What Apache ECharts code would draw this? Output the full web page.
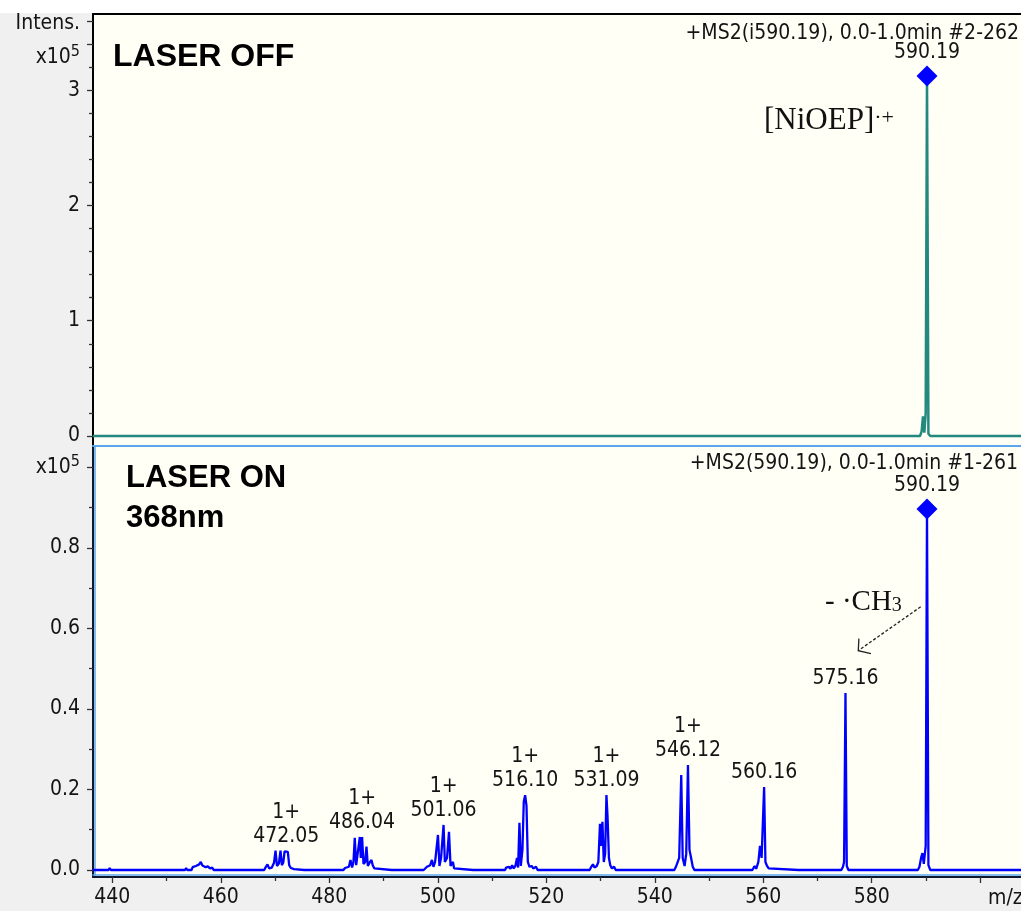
<!DOCTYPE html>
<html>
<head>
<meta charset="utf-8">
<script src="https://cdn.jsdelivr.net/npm/echarts@6/dist/echarts.min.js"></script>
<style>
  html, body { margin: 0; padding: 0; background: #f0f0f0; }
  #chart { width: 1021px; height: 911px; }
</style>
</head>
<body>
<div id="chart"></div>
<script>
// MS2 spectra of [NiOEP]+ (m/z, intensity in units of 1e5 counts)
const offSpectrum = [
  [436.4, 0], [588.9, 0], [589.2, 0.04], [589.45, 0.17], [589.7, 0.03], [589.95, 0.2],
  [590.19, 3.122], [590.45, 0.02], [590.8, 0], [607.6, 0]
];

const onSpectrum = [
  [436.4, 0], [437.6, 0], [437.8, 0.004], [438.0, 0], [439.3, 0], [439.5, 0.005], [439.7, 0],
  [440.9, 0], [441.1, 0.003], [441.3, 0], [442.6, 0], [442.8, 0.004], [443.0, 0],
  [444.5, 0], [444.7, 0.003], [444.9, 0], [448.2, 0], [448.4, 0.004], [448.6, 0],
  [451.3, 0], [451.5, 0.003], [451.7, 0], [453.4, 0], [453.6, 0.005], [453.8, 0],
  [454.6, 0], [454.8, 0.007], [455.1, 0.004], [455.4, 0.010], [455.7, 0.006], [456.0, 0.014],
  [456.3, 0.020], [456.6, 0.011], [456.9, 0.015], [457.2, 0.007], [457.6, 0.009], [458.0, 0.004],
  [458.4, 0.006], [458.7, 0], [459.5, 0], [459.7, 0.004], [459.9, 0],
  [464.5, 0], [464.7, 0.003], [464.9, 0], [466.5, 0], [466.7, 0.004], [466.9, 0],
  [468.0, 0], [468.3, 0.008], [468.6, 0.014], [468.9, 0.004], [469.4, 0.006], [469.8, 0.018],
  [470.08, 0.048], [470.35, 0.010], [470.7, 0.016], [471.0, 0.048], [471.25, 0.012],
  [471.5, 0.018], [471.75, 0.046], [472.05, 0.048], [472.35, 0.045], [472.6, 0.012],
  [472.9, 0.005], [473.2, 0.008], [473.5, 0.002], [473.8, 0],
  [475.4, 0], [475.6, 0.004], [475.8, 0], [479.0, 0], [479.2, 0.004], [479.4, 0],
  [481.3, 0], [481.5, 0.003], [481.7, 0],
  [482.6, 0], [482.9, 0.005], [483.2, 0.003], [483.6, 0.008], [483.9, 0.025], [484.2, 0.006],
  [484.45, 0.02], [484.69, 0.080], [484.95, 0.012], [485.3, 0.01], [485.62, 0.082], [485.8, 0.03],
  [486.04, 0.082], [486.3, 0.015], [486.6, 0.02], [486.85, 0.058], [487.1, 0.01], [487.5, 0.02],
  [487.77, 0.025], [488.0, 0.012], [488.3, 0.004], [488.6, 0],
  [491.5, 0], [491.7, 0.003], [491.9, 0], [494.8, 0], [495.0, 0.004], [495.2, 0],
  [497.4, 0], [497.7, 0.004], [498.0, 0.008], [498.3, 0.004], [498.6, 0.012], [498.92, 0.025],
  [499.2, 0.008], [499.5, 0.02], [500.03, 0.087], [500.3, 0.01], [500.6, 0.03], [501.06, 0.112],
  [501.3, 0.02], [501.7, 0.03], [502.06, 0.095], [502.35, 0.01], [502.6, 0.008], [502.79, 0.02],
  [503.0, 0.004], [503.3, 0],
  [506.5, 0], [506.7, 0.003], [506.9, 0], [510.5, 0], [510.7, 0.004], [510.9, 0],
  [512.4, 0], [512.6, 0.006], [512.8, 0.002], [513.1, 0.008], [513.4, 0.003], [513.7, 0.012],
  [514.0, 0.004], [514.3, 0.010], [514.6, 0.03], [514.8, 0.006], [515.05, 0.117], [515.3, 0.01],
  [515.6, 0.05], [515.85, 0.17], [516.1, 0.186], [516.35, 0.16], [516.6, 0.02], [516.9, 0.008],
  [517.3, 0.01], [517.6, 0.004], [518.1, 0.008], [518.4, 0],
  [521.5, 0], [521.7, 0.003], [521.9, 0], [525.8, 0], [526.0, 0.003], [526.2, 0],
  [528.0, 0], [528.3, 0.008], [528.6, 0.014], [528.9, 0.006], [529.3, 0.01], [529.6, 0.02],
  [529.9, 0.115], [530.15, 0.06], [530.35, 0.12], [530.6, 0.02], [530.85, 0.04], [531.09, 0.186],
  [531.3, 0.13], [531.55, 0.03], [531.8, 0.012], [532.1, 0.004], [532.5, 0.008], [532.8, 0],
  [536.5, 0], [536.7, 0.003], [536.9, 0],
  [543.0, 0], [543.3, 0.004], [543.6, 0], [543.9, 0.008], [544.2, 0.012], [544.5, 0.03],
  [544.88, 0.236], [545.15, 0.03], [545.5, 0.01], [545.8, 0.04], [546.12, 0.261], [546.4, 0.05],
  [546.7, 0.03], [547.0, 0.008], [547.3, 0],
  [550.6, 0], [550.8, 0.003], [551.0, 0],
  [558.0, 0], [558.2, 0.004], [558.4, 0.010], [558.7, 0.003], [559.1, 0.02], [559.4, 0.06],
  [559.7, 0.03], [560.16, 0.206], [560.4, 0.02], [560.7, 0.01], [561.0, 0.004], [561.3, 0],
  [566.5, 0], [566.7, 0.002], [566.9, 0],
  [574.4, 0], [574.7, 0.008], [574.9, 0.02], [575.16, 0.44], [575.4, 0.01], [575.7, 0],
  [588.5, 0], [588.8, 0.008], [589.1, 0.03], [589.35, 0.042], [589.6, 0.015], [589.95, 0.06],
  [590.19, 0.897], [590.45, 0.012], [590.8, 0], [607.6, 0]
];

// Base peak, marked with a diamond in both panels
const basePeakMz = 590.19;
const offBaseIntensity = 3.122;
const onBaseIntensity = 0.897;

// Labelled fragment peaks (laser on)
const onPeakMz = [472.05, 486.04, 501.06, 516.10, 531.09, 546.12, 560.16, 575.16];
const onPeakIntensity = [0.048, 0.082, 0.112, 0.186, 0.186, 0.261, 0.206, 0.44];
const onPeakCharge = ['1+', '1+', '1+', '1+', '1+', '1+', '', ''];

// Axis ticks
const mzLabelTicks = [440, 460, 480, 500, 520, 540, 560, 580];
const mzMajorTicks = [440, 460, 480, 500, 520, 540, 560, 580, 600];
const mzMinorTicks = [450, 470, 490, 510, 530, 550, 570, 590];
const offLabelTicks = [0, 1, 2, 3];
const offMajorTicks = [0, 1, 2, 3, 3.4, 3.6];
const offMinorTicks = [0.2, 0.4, 0.6, 0.8, 1.2, 1.4, 1.6, 1.8, 2.2, 2.4, 2.6, 2.8, 3.2];
const onLabelTicks = [0, 0.2, 0.4, 0.6, 0.8, 1.0];
const onMinorTicks = [0.1, 0.3, 0.5, 0.7, 0.9];

// Text
const offHeader = '+MS2(i590.19), 0.0-1.0min #2-262';
const onHeader = '+MS2(590.19), 0.0-1.0min #1-261';
const arrowFrom = [589.03, 0.654];
const arrowTo = [577.52, 0.545];

const MZ_MIN = 436.43, MZ_MAX = 607.52;
const SANS = '"DejaVu Sans Condensed", Roboto, sans-serif';
const SERIF = '"Liberation Serif", "DejaVu Serif", serif';
const TXT = '#141414';
const BLUE_EDGE = '#59a5ee';

const near = (a, b) => Math.abs(a - b) < 1e-6;
const expRich = {
  n: { fontSize: 21, fontFamily: SANS, color: TXT, fill: TXT },
  s: { fontSize: 16, fontFamily: SANS, color: TXT, fill: TXT, padding: [0, 0, 12, 0] }
};

const chart = echarts.init(document.getElementById('chart'), null, { renderer: 'canvas' });

const hiddenX = (gridIndex, extra) => Object.assign({
  type: 'value', gridIndex, min: MZ_MIN, max: MZ_MAX,
  axisLine: { show: false, onZero: false }, axisTick: { show: false },
  axisLabel: { show: false }, splitLine: { show: false }
}, extra);

const hiddenY = (gridIndex, min, max, extra) => Object.assign({
  type: 'value', gridIndex, position: 'left', min, max,
  axisLine: { show: false, onZero: false }, axisTick: { show: false },
  axisLabel: { show: false }, splitLine: { show: false }
}, extra);

const minorTick = values => ({ show: true, customValues: values, length: 4, lineStyle: { color: '#333', width: 1.3 } });
const majorTick = values => ({ show: true, customValues: values, length: 6, lineStyle: { color: '#333', width: 1.3 } });
const pointLabel = extra => Object.assign({
  show: true, position: 'top', distance: 2, color: TXT, opacity: 1,
  fontSize: 21, fontFamily: SANS
}, extra);

const option = {
  backgroundColor: '#f0f0f0',
  animation: false,
  grid: [
    { left: 93, top: 14, right: 0, height: 432, show: true, backgroundColor: '#fffff6', borderWidth: 0, outerBoundsMode: 'none' },
    { left: 93, top: 446, right: 0, height: 431, show: true, backgroundColor: '#fffff6', borderWidth: 0, outerBoundsMode: 'none' }
  ],
  xAxis: [
    // top panel: black frame edge along the top
    hiddenX(0, { position: 'top', axisLine: { show: true, onZero: false, lineStyle: { color: '#000', width: 2 } } }),
    // bottom panel: m/z axis with labels
    {
      type: 'value', gridIndex: 1, position: 'bottom', min: MZ_MIN, max: MZ_MAX,
      axisLine: { show: true, onZero: false, lineStyle: { color: '#101830', width: 2 } },
      axisTick: majorTick(mzMajorTicks),
      axisLabel: { show: true, customValues: mzLabelTicks, margin: 10, color: TXT, fontSize: 21, fontFamily: SANS },
      splitLine: { show: false }
    },
    hiddenX(1, { position: 'bottom', axisTick: minorTick(mzMinorTicks) }),
    hiddenX(1, { position: 'top', axisLine: { show: true, onZero: false, lineStyle: { color: BLUE_EDGE, width: 2 } } }),
    hiddenX(1, { position: 'bottom', offset: -2, axisLine: { show: true, onZero: false, lineStyle: { color: BLUE_EDGE, width: 1.5 } } })
  ],
  yAxis: [
    {
      type: 'value', gridIndex: 0, position: 'left', min: -0.0867, max: 3.66,
      axisLine: { show: true, onZero: false, lineStyle: { color: '#000', width: 2 } },
      axisTick: majorTick(offMajorTicks),
      axisLabel: {
        show: true, customValues: offLabelTicks, margin: 13, color: TXT, fontSize: 21, fontFamily: SANS,
        formatter: v => String(Math.round(v))
      },
      splitLine: { show: false }
    },
    hiddenY(0, -0.0867, 3.66, { axisTick: minorTick(offMinorTicks) }),
    {
      type: 'value', gridIndex: 1, position: 'left', min: -0.0174, max: 1.0534,
      axisLine: { show: true, onZero: false, lineStyle: { color: '#101830', width: 2 } },
      axisTick: majorTick(onLabelTicks),
      axisLabel: {
        show: true, customValues: onLabelTicks, margin: 13, color: TXT, fontSize: 21, fontFamily: SANS,
        rich: expRich,
        formatter: v => near(v, 1.0) ? '{n|x10}{s|5}' : v.toFixed(1)
      },
      splitLine: { show: false }
    },
    hiddenY(1, -0.0174, 1.0534, { axisTick: minorTick(onMinorTicks) }),
    hiddenY(1, -0.0174, 1.0534, { offset: -2, axisLine: { show: true, onZero: false, lineStyle: { color: BLUE_EDGE, width: 1.5 } } })
  ],
  series: [
    {
      name: 'laser off', type: 'line', xAxisIndex: 0, yAxisIndex: 0, data: offSpectrum,
      symbol: 'none', silent: true, lineStyle: { color: '#23897f', width: 2.5 }, z: 3
    },
    {
      name: 'laser off base peak', type: 'scatter', xAxisIndex: 0, yAxisIndex: 0,
      data: [[basePeakMz, offBaseIntensity]], symbol: 'diamond', symbolSize: 21,
      itemStyle: { color: '#0000ff', opacity: 1 }, silent: true, z: 5,
      label: pointLabel({ formatter: p => p.value[0].toFixed(2) })
    },
    {
      name: 'laser on', type: 'line', xAxisIndex: 1, yAxisIndex: 2, data: onSpectrum,
      symbol: 'none', silent: true, lineStyle: { color: '#0000ff', width: 2.3 }, z: 3
    },
    {
      name: 'laser on base peak', type: 'scatter', xAxisIndex: 1, yAxisIndex: 2,
      data: [[basePeakMz, onBaseIntensity]], symbol: 'diamond', symbolSize: 21,
      itemStyle: { color: '#0000ff', opacity: 1 }, silent: true, z: 5,
      label: pointLabel({ formatter: p => p.value[0].toFixed(2) })
    },
    {
      name: 'fragment labels', type: 'scatter', xAxisIndex: 1, yAxisIndex: 2,
      data: onPeakMz.map((mz, i) => [mz, onPeakIntensity[i]]),
      symbolSize: 1, itemStyle: { color: '#0000ff', opacity: 0 }, silent: true, z: 4,
      label: pointLabel({
        lineHeight: 24, align: 'center',
        formatter: p => (onPeakCharge[p.dataIndex] ? onPeakCharge[p.dataIndex] + '\n' : '') + p.value[0].toFixed(2)
      })
    }
  ],
  graphic: [
    { id: 'topStrip', type: 'rect', shape: { x: 0, y: 0, width: 1021, height: 13 }, style: { fill: '#ffffff' }, z: -10, silent: true },
    { id: 'offTitle', type: 'text', left: 113, top: 41, z: 10,
      style: { text: 'LASER OFF', font: 'bold 32px "Liberation Sans", Arial, sans-serif', fill: '#000' } },
    { id: 'onTitle1', type: 'text', left: 126, top: 463, z: 10,
      style: { text: 'LASER ON', font: 'bold 31px "Liberation Sans", Arial, sans-serif', fill: '#000' } },
    { id: 'onTitle2', type: 'text', left: 126, top: 503, z: 10,
      style: { text: '368nm', font: 'bold 31px "Liberation Sans", Arial, sans-serif', fill: '#000' } },
    { id: 'offHeader', type: 'text', right: 2, top: 23, z: 10,
      style: { text: offHeader, font: '21px ' + SANS, fill: TXT } },
    { id: 'onHeader', type: 'text', right: 3, top: 453, z: 10,
      style: { text: onHeader, font: '21px ' + SANS, fill: TXT } },
    { id: 'mzName', type: 'text', left: 988, top: 888, z: 10,
      style: { text: 'm/z', font: '21px ' + SANS, fill: TXT } },
    // intensity axis caption and scale factor for the top panel
    { id: 'intensName', type: 'text', right: 941, top: 13, z: 10,
      style: { text: 'Intens.', font: '21px ' + SANS, fill: TXT } },
    { id: 'offScale', type: 'text', right: 941, top: 44, z: 10,
      style: { text: '{n|x10}{s|5}', rich: expRich } },
    { id: 'ionName', type: 'text', left: 764, top: 105, z: 10,
      style: {
        text: '{m|[NiOEP]}{s|·+}',
        rich: {
          m: { fontSize: 31, fontFamily: SERIF, fill: '#111' },
          s: { fontSize: 22, fontFamily: SERIF, fill: '#111', padding: [0, 0, 5, 0] }
        }
      } },
    { id: 'lossName', type: 'text', left: 825, top: 588, z: 10,
      style: {
        text: '{m|- ·CH}{s|3}',
        rich: {
          m: { fontSize: 29, fontFamily: SERIF, fill: '#111' },
          s: { fontSize: 20, fontFamily: SERIF, fill: '#111', padding: [7, 0, 0, 0] }
        }
      } }
  ]
};

chart.setOption(option);

// Dashed arrow from the methyl-loss note down to the 575.16 peak
const p0 = chart.convertToPixel({ gridIndex: 1 }, arrowFrom);
const p1 = chart.convertToPixel({ gridIndex: 1 }, arrowTo);
const dx = p0[0] - p1[0], dy = p0[1] - p1[1];
const len = Math.hypot(dx, dy);
const ux = dx / len, uy = dy / len;
const arm = (deg, l) => {
  const r = deg * Math.PI / 180;
  return [p1[0] + l * (ux * Math.cos(r) - uy * Math.sin(r)), p1[1] + l * (ux * Math.sin(r) + uy * Math.cos(r))];
};
chart.setOption({
  graphic: [
    { id: 'arrowShaft', type: 'line', z: 10, silent: true,
      shape: { x1: p0[0], y1: p0[1], x2: p1[0], y2: p1[1] },
      style: { stroke: '#222', lineWidth: 1.3, lineDash: [3, 2] } },
    { id: 'arrowHead', type: 'polyline', z: 10, silent: true,
      shape: { points: [arm(-52, 12), p1, arm(48, 13)] },
      style: { stroke: '#222', lineWidth: 1.3, fill: null } }
  ]
});
</script>
</body>
</html>
